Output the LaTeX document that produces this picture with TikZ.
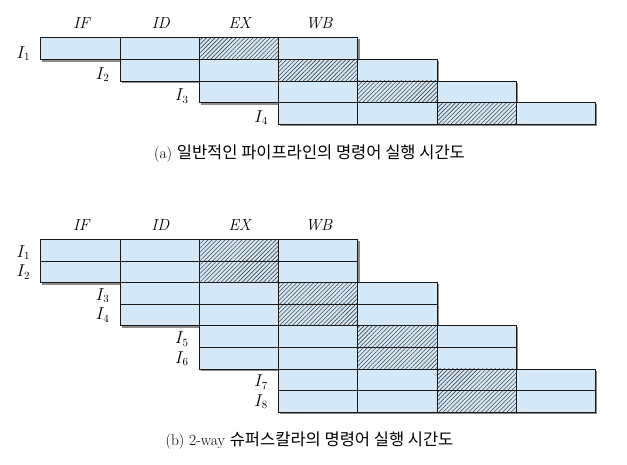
\documentclass[tikz,border=0pt]{standalone}
\usepackage{fontspec}
\newfontfamily\krfont{Noto Sans CJK KR}
\usetikzlibrary{patterns.meta,backgrounds}
\definecolor{cellblue}{RGB}{212,232,248}
\definecolor{hatchgray}{RGB}{70,70,70}
\definecolor{shadowgray}{RGB}{140,140,140}

\begin{document}
\begin{tikzpicture}[x=1pt,y=-1pt,line width=1pt,
    cell/.style={draw=black!90,fill=cellblue,anchor=north west,inner sep=0pt,
        minimum width=79.25pt,minimum height=21.6pt},
    hatched/.style={cell,preaction={fill=cellblue},
        pattern={Lines[angle=45,distance=3pt,line width=0.6pt]},pattern color=hatchgray},
    rowshadow/.style={fill=shadowgray},
    stage/.style={anchor=base,inner sep=0pt,font=\fontsize{16}{19}\selectfont\itshape},
    instr/.style={anchor=base east,inner sep=0pt,font=\fontsize{16}{19}\selectfont},
    caption/.style={inner sep=0pt,text=black,font=\fontsize{15.5}{18}\selectfont}]
\useasboundingbox (0,0) rectangle (627,465);

% (a) plain pipeline
\foreach \r [evaluate=\r as \yt using 37.5+\r*21.6, evaluate=\r as \n using int(\r+1)] in {0,...,3}{
    \foreach \k [evaluate=\k as \xl using 40.3+(\r+\k)*79.25] in {0,...,3}{
        \ifnum\k=2
            \node[hatched] (a-\r-\k) at (\xl,\yt) {};
        \else
            \node[cell] (a-\r-\k) at (\xl,\yt) {};
        \fi
    }
    \begin{pgfonlayer}{background}
        \fill[rowshadow] ([shift={(2pt,-2pt)}]a-\r-0.north west) rectangle ([shift={(2pt,-2pt)}]a-\r-3.south east);
    \end{pgfonlayer}
    \node[instr] (la-\n) at ([xshift=-10pt,yshift=2pt]a-\r-0.south west) {$I_{\n}$};
}
\foreach \s [count=\k from 0] in {IF,ID,EX,WB}
    \node[stage] (sa-\k) at ([xshift=1pt,yshift=8.5pt]a-0-\k.north) {\s};
\node[caption] (cap-a) at (309.5,154) {(a) {\fontsize{16.5}{18}\selectfont\krfont 일반적인 파이프라인의 명령어 실행 시간도}};

% (b) 2-way superscalar
\foreach \r [evaluate=\r as \yt using 239+\r*21.6, evaluate=\r as \p using int(\r/2),
        evaluate=\r as \n using int(\r+1)] in {0,...,7}{
    \foreach \k [evaluate=\k as \xl using 40.3+(\p+\k)*79.25] in {0,...,3}{
        \ifnum\k=2
            \node[hatched] (b-\r-\k) at (\xl,\yt) {};
        \else
            \node[cell] (b-\r-\k) at (\xl,\yt) {};
        \fi
    }
    \begin{pgfonlayer}{background}
        \fill[rowshadow] ([shift={(2pt,-2pt)}]b-\r-0.north west) rectangle ([shift={(2pt,-2pt)}]b-\r-3.south east);
    \end{pgfonlayer}
    \ifodd\r\relax
        \node[instr] (lb-\n) at ([xshift=-10pt,yshift=6pt]b-\r-0.south west) {$I_{\n}$};
    \else
        \node[instr] (lb-\n) at ([xshift=-10pt,yshift=3.8pt]b-\r-0.south west) {$I_{\n}$};
    \fi
}
\foreach \s [count=\k from 0] in {IF,ID,EX,WB}
    \node[stage] (sb-\k) at ([xshift=1pt,yshift=8pt]b-0-\k.north) {\s};
\node[caption] (cap-b) at (309.5,440.5) {(b) 2-way {\fontsize{16.5}{18}\selectfont\krfont 슈퍼스칼라의 명령어 실행 시간도}};
\end{tikzpicture}
\end{document}
